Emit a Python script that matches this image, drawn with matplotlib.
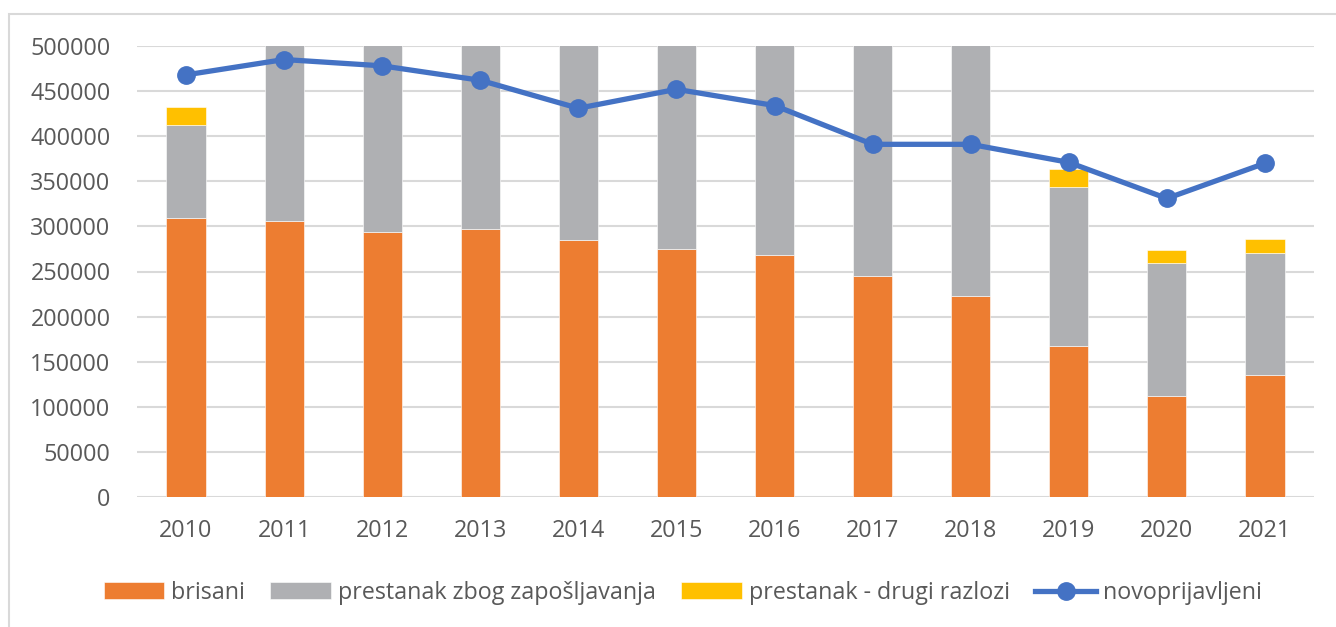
import matplotlib.pyplot as plt
from matplotlib.patches import Rectangle
import numpy as np

years = ["2010", "2011", "2012", "2013", "2014", "2015", "2016", "2017", "2018", "2019", "2020", "2021"]
brisani = [309000, 306000, 294000, 297000, 285000, 275000, 268000, 245000, 223000, 167000, 112000, 135000]
zaposljavanje = [103000, 240000, 250000, 245000, 250000, 255000, 260000, 270000, 290000, 177000, 147000, 135000]
drugi_razlozi = [20000, 19000, 19000, 18000, 18000, 18000, 17000, 17000, 17000, 20000, 15000, 16000]
novoprijavljeni = [468000, 485000, 478000, 462000, 431000, 452000, 434000, 391000, 391000, 371000, 331000, 370000]

plt.rcParams['font.family'] = ['Open Sans', 'DejaVu Sans']
text_color = '#595959'

fig = plt.figure(figsize=(13.36, 6.27), dpi=100)
W, H = 1336, 627
ax = fig.add_axes([137 / W, 1 - 497 / H, (1314 - 137) / W, (497 - 46) / H])

x = np.arange(len(years))
bottom2 = np.array(brisani)
bottom3 = bottom2 + np.array(zaposljavanje)
b1 = ax.bar(x, brisani, 0.4, color='#ED7D31', edgecolor='white', linewidth=0.4, label='brisani', zorder=2)
b2 = ax.bar(x, zaposljavanje, 0.4, bottom=bottom2, color='#AFB0B3', edgecolor='white', linewidth=0.4,
            label='prestanak zbog zapošljavanja', zorder=2)
b3 = ax.bar(x, drugi_razlozi, 0.4, bottom=bottom3, color='#FFC000', edgecolor='white', linewidth=0.4,
            label='prestanak - drugi razlozi', zorder=2)
ln, = ax.plot(x, novoprijavljeni, color='#4472C4', linewidth=3.8, marker='o', markersize=12.5,
              label='novoprijavljeni', zorder=3, clip_on=False)

ax.set_xlim(-0.5, len(years) - 0.5)
ax.set_ylim(0, 500000)
ax.set_yticks(np.arange(0, 500001, 50000))
ax.set_yticklabels([str(v) for v in range(0, 500001, 50000)])
ax.set_xticks(x)
ax.set_xticklabels(years)
ax.grid(axis='y', color='#D9D9D9', linewidth=1.5, zorder=0)
ax.set_axisbelow(True)
for s in ax.spines.values():
    s.set_visible(False)
ax.tick_params(axis='both', length=0, labelsize=16.8, labelcolor=text_color)
ax.tick_params(axis='y', pad=19)
ax.tick_params(axis='x', pad=16)

handles = [b1, b2, b3, ln]
fig.legend(handles, [h.get_label() for h in handles], loc='center', bbox_to_anchor=(0.511, 1 - 593 / H),
           ncol=4, frameon=False, fontsize=16.75, labelcolor=text_color, handlelength=2.6, handleheight=0.75,
           handletextpad=0.3, columnspacing=1.1)

fig.patches.append(Rectangle((9 / W, -0.1), 2, 1.1 - 14 / H, transform=fig.transFigure,
                             fill=False, edgecolor='#D9D9D9', linewidth=1.5))

fig.savefig('out.png', dpi=100)
